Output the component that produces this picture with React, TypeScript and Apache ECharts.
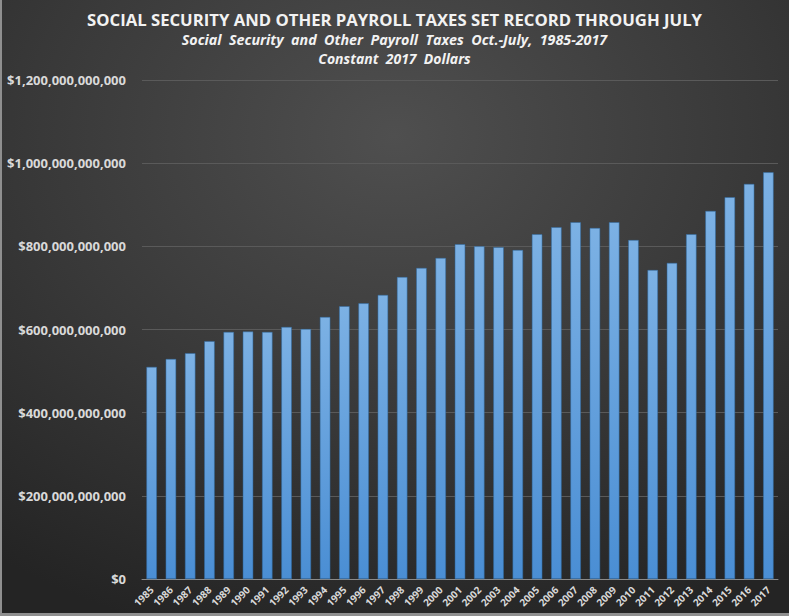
import React, { useEffect, useRef } from "react";
import * as echarts from "echarts";

const years = [
  "1985","1986","1987","1988","1989","1990","1991","1992","1993","1994","1995",
  "1996","1997","1998","1999","2000","2001","2002","2003","2004","2005","2006",
  "2007","2008","2009","2010","2011","2012","2013","2014","2015","2016","2017",
];
// billions of constant 2017 dollars
const taxesBillions = [
  510, 529, 543, 572, 594, 595, 594, 606, 601, 630, 656,
  663, 683, 726, 748, 772, 805, 800, 798, 791, 829, 846,
  858, 844, 858, 815, 743, 760, 829, 885, 918, 950, 978,
];
const titleText = "SOCIAL SECURITY AND OTHER PAYROLL TAXES SET RECORD THROUGH JULY";
const subtitleText = "Social  Security  and  Other  Payroll  Taxes  Oct.-July,  1985-2017";
const subtitle2Text = "Constant  2017  Dollars";

const fmt = (v: number) => "$" + Math.round(v).toLocaleString("en-US");

export default function App() {
  const ref = useRef<HTMLDivElement>(null);
  useEffect(() => {
    document.body.style.margin = "0";
    const chart = echarts.init(ref.current!, undefined, { renderer: "svg" });
    const font = "'Open Sans', 'Liberation Sans', sans-serif";
    chart.setOption({
      animation: false,
      backgroundColor: {
        type: "radial",
        x: 0.5,
        y: 0.22,
        r: 0.85,
        colorStops: [
          { offset: 0, color: "#4f4f4f" },
          { offset: 0.55, color: "#383838" },
          { offset: 1, color: "#242424" },
        ],
      },
      graphic: [
        { type: "rect", left: 0, top: 0, shape: { width: 2, height: 616 }, style: { fill: "#8f8f8f" }, silent: true },
        { type: "rect", left: 0, top: 613, shape: { width: 789, height: 3 }, style: { fill: "#8f8f8f" }, silent: true },
      ],
      title: [
        {
          text: titleText,
          left: "center",
          top: 6,
          textStyle: { color: "#f2f2f2", fontSize: 16.7, fontWeight: "bold", fontFamily: font },
        },
        {
          text: subtitleText,
          left: "center",
          top: 27,
          textStyle: { color: "#f2f2f2", fontSize: 14.3, fontWeight: "bold", fontStyle: "italic", fontFamily: font },
        },
        {
          text: subtitle2Text,
          left: "center",
          top: 46,
          textStyle: { color: "#f2f2f2", fontSize: 14, fontWeight: "bold", fontStyle: "italic", fontFamily: font },
        },
      ],
      grid: { left: 142, right: 11, top: 80, bottom: 37 },
      xAxis: {
        type: "category",
        data: years,
        axisLine: { lineStyle: { color: "#8a8a8a", width: 1 } },
        axisTick: { show: false },
        axisLabel: {
          rotate: 45,
          interval: 0,
          color: "#d9d9d9",
          fontSize: 10,
          fontWeight: "bold",
          fontFamily: font,
          margin: 9,
        },
      },
      yAxis: {
        type: "value",
        min: 0,
        max: 1200,
        interval: 200,
        axisLine: { show: false },
        axisTick: { show: false },
        splitLine: { lineStyle: { color: "#5a5a5a", width: 1 } },
        axisLabel: {
          formatter: (v: number) => fmt(v * 1e9),
          color: "#d9d9d9",
          fontSize: 13,
          fontWeight: "bold",
          fontFamily: font,
          margin: 16,
        },
      },
      series: [
        {
          type: "bar",
          data: taxesBillions,
          barCategoryGap: "46%",
          itemStyle: {
            color: {
              type: "linear",
              x: 0, y: 0, x2: 0, y2: 1,
              colorStops: [
                { offset: 0, color: "#7cb1e4" },
                { offset: 1, color: "#4a8ed4" },
              ],
            },
            borderColor: "#2f6aa3",
            borderWidth: 0.5,
          },
        },
      ],
    });
    return () => chart.dispose();
  }, []);
  return <div ref={ref} style={{ width: 789, height: 616 }} />;
}
